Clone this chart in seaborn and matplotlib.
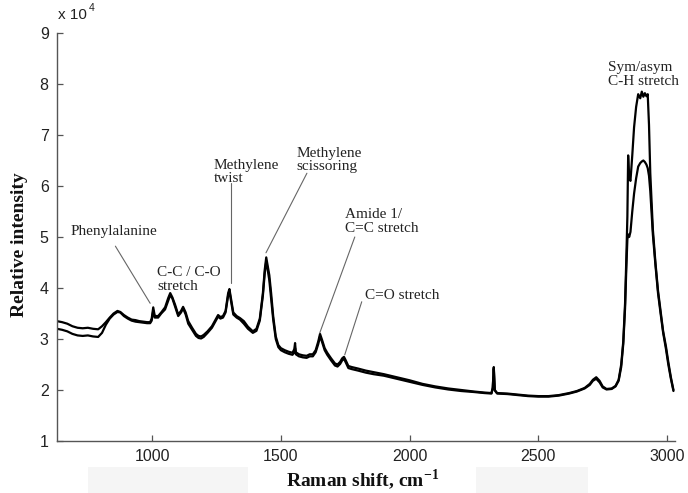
import matplotlib
matplotlib.use("Agg")
import matplotlib.pyplot as plt
from matplotlib.patches import Rectangle
import pandas as pd
import seaborn as sns

# Raman shift (cm^-1) sample positions shared by both spectra
shift = [
    630, 650, 670, 690, 710, 730, 750, 770, 790, 805,
    820, 835, 850, 865, 876, 890, 905, 920, 935, 950,
    965, 980, 992, 998, 1004, 1010, 1023, 1035, 1050, 1062,
    1070, 1078, 1089, 1101, 1112, 1120, 1130, 1140, 1155, 1170,
    1180, 1190, 1200, 1215, 1232, 1245, 1256, 1265, 1275, 1285,
    1295, 1300, 1306, 1315, 1328, 1341, 1356, 1372, 1391, 1405,
    1418, 1430, 1437, 1443, 1448, 1455, 1462, 1470, 1480, 1490,
    1500, 1515, 1530, 1545, 1552, 1555, 1558, 1570, 1585, 1600,
    1612, 1624, 1635, 1645, 1652, 1660, 1670, 1680, 1695, 1710,
    1720, 1730, 1738, 1745, 1752, 1762, 1775, 1800, 1830, 1860,
    1900, 1950, 2000, 2050, 2100, 2150, 2200, 2250, 2290, 2318,
    2323, 2327, 2331, 2340, 2380, 2420, 2460, 2500, 2540, 2580,
    2620, 2650, 2680, 2700, 2712, 2725, 2738, 2750, 2765, 2785,
    2800, 2812, 2822, 2830, 2837, 2842, 2846, 2849, 2853, 2858,
    2865, 2872, 2880, 2888, 2896, 2902, 2908, 2914, 2920, 2925,
    2930, 2935, 2945, 2955, 2965, 2975, 2985, 2996, 3005, 3015,
    3025,
]

# Relative intensity, spectrum 1 (units of 10^4)
spectrum_1 = [
    3.35, 3.33, 3.30, 3.25, 3.22, 3.21, 3.22, 3.20, 3.19, 3.25,
    3.33, 3.42, 3.50, 3.55, 3.53, 3.47, 3.42, 3.38, 3.37, 3.35,
    3.34, 3.33, 3.33, 3.40, 3.62, 3.45, 3.45, 3.52, 3.62, 3.80,
    3.90, 3.82, 3.67, 3.48, 3.55, 3.63, 3.52, 3.35, 3.22, 3.10,
    3.06, 3.05, 3.08, 3.15, 3.25, 3.37, 3.47, 3.43, 3.45, 3.55,
    3.90, 3.98, 3.80, 3.52, 3.45, 3.41, 3.35, 3.24, 3.15, 3.20,
    3.40, 3.90, 4.35, 4.60, 4.45, 4.25, 3.90, 3.45, 3.05, 2.88,
    2.82, 2.78, 2.75, 2.73, 2.80, 2.92, 2.74, 2.70, 2.68, 2.67,
    2.70, 2.70, 2.78, 2.95, 3.10, 2.98, 2.82, 2.73, 2.62, 2.52,
    2.50, 2.55, 2.62, 2.65, 2.58, 2.47, 2.45, 2.42, 2.38, 2.35,
    2.31, 2.25, 2.19, 2.12, 2.07, 2.03, 2.00, 1.97, 1.95, 1.94,
    2.05, 2.45, 2.00, 1.94, 1.93, 1.91, 1.89, 1.88, 1.88, 1.90,
    1.94, 1.98, 2.04, 2.12, 2.20, 2.25, 2.18, 2.07, 2.02, 2.03,
    2.08, 2.20, 2.50, 2.95, 3.70, 4.60, 5.40, 6.60, 6.15, 6.10,
    6.60, 7.15, 7.55, 7.80, 7.72, 7.85, 7.75, 7.82, 7.76, 7.80,
    7.20, 6.25, 5.15, 4.50, 3.95, 3.55, 3.15, 2.85, 2.55, 2.25,
    2.00,
]

# Relative intensity, spectrum 2 (units of 10^4)
spectrum_2 = [
    3.20, 3.18, 3.15, 3.10, 3.07, 3.06, 3.07, 3.05, 3.04, 3.12,
    3.28, 3.40, 3.48, 3.53, 3.52, 3.45, 3.40, 3.36, 3.34, 3.33,
    3.32, 3.31, 3.31, 3.36, 3.55, 3.42, 3.42, 3.50, 3.58, 3.75,
    3.86, 3.80, 3.63, 3.45, 3.52, 3.60, 3.48, 3.30, 3.18, 3.06,
    3.02, 3.01, 3.04, 3.12, 3.22, 3.34, 3.44, 3.40, 3.42, 3.52,
    3.85, 3.94, 3.75, 3.48, 3.42, 3.38, 3.30, 3.20, 3.12, 3.16,
    3.36, 3.85, 4.28, 4.52, 4.38, 4.15, 3.80, 3.38, 3.00, 2.84,
    2.78, 2.74, 2.71, 2.69, 2.74, 2.82, 2.70, 2.66, 2.64, 2.63,
    2.66, 2.66, 2.74, 2.90, 3.05, 2.94, 2.78, 2.69, 2.58, 2.48,
    2.46, 2.51, 2.58, 2.61, 2.54, 2.43, 2.41, 2.38, 2.34, 2.31,
    2.28, 2.22, 2.16, 2.10, 2.05, 2.01, 1.98, 1.96, 1.94, 1.93,
    2.03, 2.42, 1.99, 1.93, 1.92, 1.90, 1.88, 1.87, 1.87, 1.89,
    1.93, 1.97, 2.03, 2.10, 2.18, 2.22, 2.15, 2.05, 2.01, 2.02,
    2.07, 2.18, 2.45, 2.90, 3.60, 4.40, 4.95, 5.05, 5.00, 5.10,
    5.50, 5.85, 6.15, 6.38, 6.45, 6.48, 6.50, 6.47, 6.42, 6.35,
    6.20, 5.90, 5.05, 4.45, 3.90, 3.50, 3.12, 2.80, 2.50, 2.22,
    1.98,
]

x_ticks = [1000, 1500, 2000, 2500, 3000]
y_ticks = [1, 2, 3, 4, 5, 6, 7, 8, 9]

# Band assignments: label, text anchor (x, y), leader line (x0, y0, x1, y1)
band_labels = ["Phenylalanine", "C-C / C-O\nstretch", "Methylene\ntwist",
               "Methylene\nscissoring", "Amide 1/\nC=C stretch", "C=O stretch",
               "Sym/asym\nC-H stretch"]
label_pos = [(682, 5.10), (1019, 4.17), (1240, 6.27), (1562, 6.51),
             (1748, 5.30), (1826, 3.86), (2771, 8.19)]
leaders = [(857, 4.82, 992, 3.70), None, (1306, 6.06, 1306, 4.10),
           (1601, 6.25, 1442, 4.69), (1787, 5.00, 1651, 3.12),
           (1814, 3.73, 1748, 2.69), None]

sns.set_theme(style="ticks")
plt.rcParams["font.family"] = ["Liberation Sans", "DejaVu Sans"]
plt.rcParams["mathtext.fontset"] = "custom"
plt.rcParams["mathtext.rm"] = "Liberation Serif"
plt.rcParams["mathtext.bf"] = "Liberation Serif:bold"

df = pd.DataFrame({
    "shift": shift * 2,
    "intensity": spectrum_1 + spectrum_2,
    "spectrum": ["1"] * len(shift) + ["2"] * len(shift),
})

fig = plt.figure(figsize=(6.88, 4.93), dpi=100)
ax = fig.add_axes([0.0828, 0.1055, 0.8983, 0.8276])

sns.lineplot(data=df, x="shift", y="intensity", units="spectrum",
             estimator=None, color="black", linewidth=1.6, ax=ax,
             legend=False)

ax.set_xlim(630, 3031)
ax.set_ylim(1, 9)
ax.set_xticks(x_ticks)
ax.set_yticks(y_ticks)
ax.set_yticklabels([str(v) for v in y_ticks])

axis_grey = "#555555"
for side in ("top", "right"):
    ax.spines[side].set_visible(False)
for side in ("left", "bottom"):
    ax.spines[side].set_color(axis_grey)
    ax.spines[side].set_linewidth(1.0)
ax.tick_params(direction="in", length=4, width=0.9, color=axis_grey,
               labelsize=11.5, labelcolor="#222222", pad=6)

serif = ["Liberation Serif", "DejaVu Serif"]
ax.set_xlabel(r"Raman shift, cm$^{\mathbf{-1}}$", family=serif,
              fontweight="bold", fontsize=14, color="#111111")
ax.set_ylabel("Relative intensity", family=serif, fontweight="bold",
              fontsize=14, color="#111111")
ax.xaxis.set_label_coords(0.494, -0.066)
ax.yaxis.set_label_coords(-0.047, 0.48)

# exponent marker above the y axis
ax.text(0.002, 1.045, "x 10", transform=ax.transAxes, va="center",
        ha="left", fontsize=11, color="#222222")
ax.text(0.052, 1.062, "4", transform=ax.transAxes, va="center",
        ha="left", fontsize=7.5, color="#222222")

for text, (tx, ty), lead in zip(band_labels, label_pos, leaders):
    ax.text(tx, ty, text, family=serif, fontsize=11, color="#222222",
            ha="left", va="center", linespacing=1.05)
    if lead is not None:
        x0, y0, x1, y1 = lead
        ax.plot([x0, x1], [y0, y1], color="#666666", linewidth=0.8)

# faint panels behind the axis title
for left, width in ((0.128, 0.232), (0.692, 0.163)):
    fig.patches.append(Rectangle((left, 0.0), width, 0.053,
                                 transform=fig.transFigure,
                                 facecolor="#f5f5f5", edgecolor="none",
                                 zorder=-1))

fig.savefig("out.png", dpi=100)
